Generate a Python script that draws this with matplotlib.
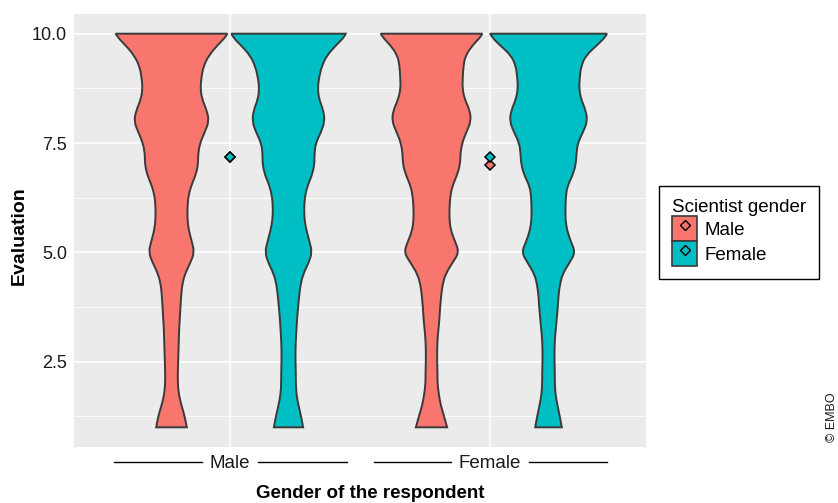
import numpy as np
import matplotlib
matplotlib.use("Agg")
import matplotlib.pyplot as plt
from matplotlib.path import Path
from matplotlib.patches import PathPatch, Patch
from matplotlib.lines import Line2D
from matplotlib.transforms import blended_transform_factory

plt.rcParams['font.family'] = ['Liberation Sans', 'DejaVu Sans']

# categories
respondent = ['Male', 'Female']
scientist = ['Male', 'Female']
fill_colors = {'Male': '#F8766D', 'Female': '#00BFC4'}

# evaluation levels (top to bottom) and violin densities
eval_levels = [10.0, 9.9, 9.75, 9.5, 9.25, 9.0, 8.75, 8.5, 8.25, 8.0, 7.75, 7.5, 7.25,
               7.0, 6.75, 6.5, 6.25, 6.0, 5.75, 5.5, 5.25, 5.0, 4.75, 4.5, 4.25, 4.0,
               3.75, 3.5, 3.25, 3.0, 2.75, 2.5, 2.25, 2.0, 1.75, 1.5, 1.25, 1.0]

dens_resp_m_sci_m = [168, 160, 140, 112, 96, 90, 87, 92, 106, 113, 100, 86, 80,
                     80, 72, 58, 50, 48, 48, 52, 61, 69, 56, 40, 32, 29,
                     27, 25, 23, 22, 21, 20, 19, 19, 22, 30, 40, 46]
dens_resp_m_sci_f = [172, 165, 145, 115, 100, 92, 88, 92, 105, 109, 98, 82, 78,
                     78, 70, 56, 49, 47, 48, 54, 63, 71, 60, 44, 36, 32,
                     29, 26, 24, 22, 21, 21, 22, 22, 24, 30, 38, 44]
dens_resp_f_sci_m = [153, 145, 125, 102, 96, 94, 93, 100, 115, 119, 105, 92, 87,
                     86, 76, 62, 56, 54, 54, 58, 71, 83, 62, 42, 33, 29,
                     26, 24, 21, 18, 17, 17, 18, 18, 22, 28, 38, 47]
dens_resp_f_sci_f = [176, 168, 148, 112, 98, 94, 92, 98, 112, 117, 104, 88, 84,
                     82, 72, 56, 52, 51, 51, 56, 67, 81, 62, 42, 34, 30,
                     28, 25, 22, 19, 18, 18, 19, 19, 21, 27, 34, 40]

densities = {
    ('Male', 'Male'): dens_resp_m_sci_m,
    ('Male', 'Female'): dens_resp_m_sci_f,
    ('Female', 'Male'): dens_resp_f_sci_m,
    ('Female', 'Female'): dens_resp_f_sci_f,
}

# mean evaluation (respondent, scientist)
mean_values = {
    ('Male', 'Male'): 7.17,
    ('Male', 'Female'): 7.18,
    ('Female', 'Male'): 6.99,
    ('Female', 'Female'): 7.19,
}


def smooth_side(pts):
    # quadratic smoothing through midpoints
    verts = [pts[0]]
    codes = [Path.LINETO]
    for i in range(1, len(pts) - 1):
        mid = ((pts[i][0] + pts[i + 1][0]) / 2, (pts[i][1] + pts[i + 1][1]) / 2)
        verts += [pts[i], mid]
        codes += [Path.CURVE3, Path.CURVE3]
    verts.append(pts[-1])
    codes.append(Path.LINETO)
    return verts, codes


fig = plt.figure(figsize=(8.38, 5.03), dpi=100)
ax = fig.add_axes([74 / 838, 1 - 447 / 503, 572 / 838, 433 / 503])
ax.set_facecolor('#EBEBEB')
for s in ax.spines.values():
    s.set_visible(False)

ax.set_xlim(0.4, 2.6)
ax.set_ylim(0.55, 10.45)
ax.set_yticks([2.5, 5.0, 7.5, 10.0])
ax.set_yticklabels(['2.5', '5.0', '7.5', '10.0'])
ax.set_yticks([1.25, 3.75, 6.25, 8.75], minor=True)
ax.set_xticks([1, 2])
ax.set_xticklabels(respondent)
ax.grid(which='major', color='white', lw=1.2)
ax.grid(which='minor', axis='y', color='white', lw=0.6)
ax.set_axisbelow(True)
ax.tick_params(which='both', length=0, labelsize=13, colors='#1a1a1a')
ax.tick_params(axis='x', labelsize=13.5)
ax.tick_params(axis='y', pad=5)
ax.tick_params(axis='x', pad=6)

# violins
dmax = max(max(v) for v in densities.values())
half = 0.225
ys = np.array(eval_levels)
for i, r in enumerate(respondent):
    for j, s in enumerate(scientist):
        cx = (i + 1) + (-half if s == 'Male' else half)
        w = np.array(densities[(r, s)]) / dmax * half
        right = list(zip(cx + w[::-1], ys[::-1]))
        left = list(zip(cx - w, ys))
        v1, c1 = smooth_side(right)
        v2, c2 = smooth_side(left)
        verts = v1 + v2 + [v1[0]]
        codes = [Path.MOVETO] + c1[1:] + c2 + [Path.CLOSEPOLY]
        ax.add_patch(PathPatch(Path(verts, codes), facecolor=fill_colors[s],
                               edgecolor='#3a3a3a', lw=1.4, zorder=2))

# mean markers
for i, r in enumerate(respondent):
    for s in scientist:
        ax.plot(i + 1, mean_values[(r, s)], marker='D', ms=5.2, mfc=fill_colors[s],
                mec='black', mew=1.1, ls='none', zorder=3)

# bracket lines around x labels
fig.canvas.draw()
renderer = fig.canvas.get_renderer()
trans = blended_transform_factory(ax.transData, ax.transAxes)
inv = ax.transData.inverted()
line_y = -0.0346
for i, lab in enumerate(ax.get_xticklabels()):
    bb = lab.get_window_extent(renderer)
    x0 = inv.transform((bb.x0 - 8, 0))[0]
    x1 = inv.transform((bb.x1 + 8, 0))[0]
    c = i + 1
    ax.plot([c - 0.447, x0], [line_y, line_y], color='black', lw=1.0,
            transform=trans, clip_on=False)
    ax.plot([x1, c + 0.45], [line_y, line_y], color='black', lw=1.0,
            transform=trans, clip_on=False)

# axis titles
fig.text(370 / 838, 1 - 494 / 503, 'Gender of the respondent', ha='center', va='center',
         fontsize=13.5, fontweight='bold')
fig.text(19 / 838, 1 - 236 / 503, 'Evaluation', ha='center', va='center',
         rotation=90, fontsize=14, fontweight='bold')

# legend
handles = []
for s in scientist:
    handles.append((Patch(facecolor=fill_colors[s], edgecolor='#3a3a3a', lw=1.2),
                    Line2D([], [], marker='D', ms=5, mfc='none', mec='black',
                           mew=1.0, ls='none')))
leg = fig.legend(handles, scientist, title='Scientist gender',
                 loc='upper left', bbox_to_anchor=(659 / 838, 1 - 186 / 503),
                 fontsize=13.5, title_fontsize=13.5, frameon=True, fancybox=False,
                 edgecolor='black', framealpha=1, borderpad=0.7,
                 handlelength=1.33, handleheight=1.67, handletextpad=0.4,
                 labelspacing=0.0, borderaxespad=0)
leg.get_frame().set_linewidth(1.0)
leg._legend_box.align = 'left'

# copyright
fig.text(826 / 838, 1 - 442 / 503, '\u00a9 EMBO', rotation=90, ha='left', va='bottom',
         fontsize=9, color='#1a1a1a')

plt.savefig('out.png', dpi=100)
